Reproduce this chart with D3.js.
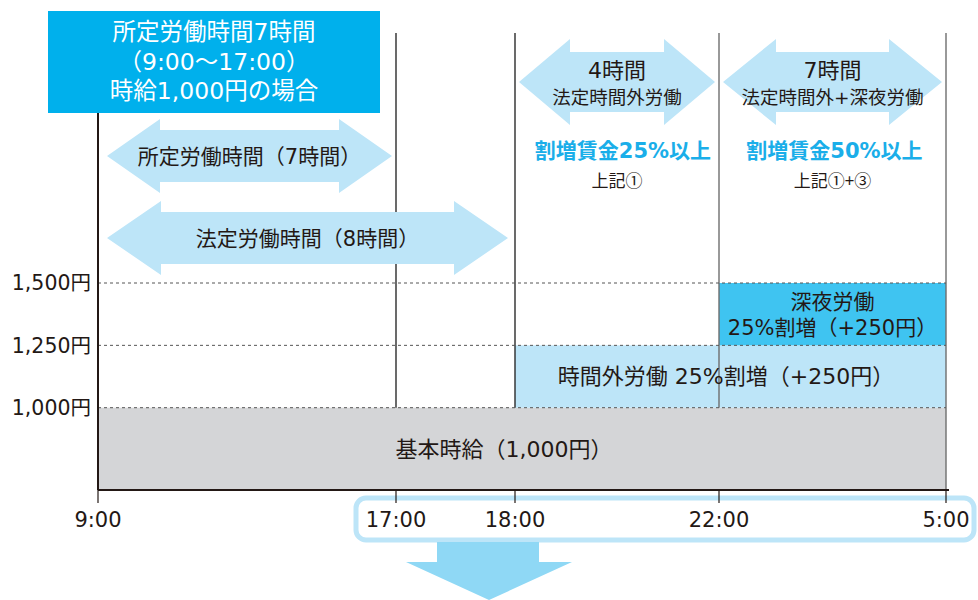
<!DOCTYPE html>
<html>
<head>
<meta charset="utf-8">
<script src="https://cdn.jsdelivr.net/npm/d3@7"></script>
<style>
  body { margin: 0; background: #fff; }
  #chart { width: 978px; height: 600px; }
  text { font-family: "DejaVu Sans", "Noto Sans CJK JP", sans-serif; fill: #231815; }
  text.cjk { font-family: "Noto Sans CJK JP", sans-serif; }
</style>
</head>
<body>
<div id="chart"></div>
<script>
// Datos
const tickHours = [9, 17, 18, 22, 29];
const tickLabels = ['9:00', '17:00', '18:00', '22:00', '5:00'];
const yTicks = [1000, 1250, 1500];
const yTickLabels = ['1,000円', '1,250円', '1,500円'];

// capas del salario (inicio, fin, importe)
const layerNames = ['base', 'overtime', 'night'];
const layerStart = [9, 18, 22];
const layerEnd = [29, 29, 29];
const layerAmount = [1000, 250, 250];
const layerLabels = [
  ['基本時給（1,000円）'],
  ['時間外労働 25%割増（+250円）'],
  ['深夜労働', '25%割増（+250円）']
];

// flechas de periodos
const spanFrom = [9, 9, 18, 22];
const spanTo = [17, 18, 22, 29];
const spanTitle = ['所定労働時間（7時間）', '法定労働時間（8時間）', '4時間', '7時間'];
const spanSub = ['', '', '法定時間外労働', '法定時間外+深夜労働'];
const spanRate = ['', '', '割増賃金25%以上', '割増賃金50%以上'];
const spanNote = ['', '', '上記①', '上記①+③'];

const COLOR_BOX = '#00b0ec',
  COLOR_LIGHT = '#bde5f8',
  COLOR_NIGHT = '#3fc4f1',
  COLOR_GREY = '#d4d5d7',
  COLOR_RATE = '#1aaee9',
  COLOR_DOWN = '#8fd8f5';

const Y_MIN = 670;

const svg = d3.select('#chart').append('svg')
  .attr('width', 978).attr('height', 600);

let x = d3.scaleLinear()
  .domain(tickHours)
  .range([98, 396, 515, 719, 946]);

let y = d3.scaleLinear()
  .domain([Y_MIN, 1500])
  .range([490, 283]);

// capas apiladas: la base arranca en el eje
let stackLow = [], stackHigh = [];
let run = 0;
layerAmount.forEach((a, i) => {
  stackLow.push(i === 0 ? Y_MIN : run);
  run += a;
  stackHigh.push(run);
});
const layerColors = [COLOR_GREY, COLOR_LIGHT, COLOR_NIGHT];

svg.append('g').selectAll('rect')
  .data(layerNames)
  .enter().append('rect')
  .attr('x', (d, i) => x(layerStart[i]))
  .attr('width', (d, i) => x(layerEnd[i]) - x(layerStart[i]))
  .attr('y', (d, i) => y(stackHigh[i]))
  .attr('height', (d, i) => y(stackLow[i]) - y(stackHigh[i]))
  .attr('fill', (d, i) => layerColors[i]);

// lineas verticales
const vStroke = ['#2b2b2b', '#2b2b2b', '#6e6e6e', '#6e6e6e'];
svg.append('g').selectAll('line')
  .data(tickHours.slice(1))
  .enter().append('line')
  .attr('x1', d => x(d)).attr('x2', d => x(d))
  .attr('y1', 33)
  .attr('y2', (d, i) => i === 3 ? y(Y_MIN) : y(1000))
  .attr('stroke', (d, i) => vStroke[i])
  .attr('stroke-width', 1.4);

// grid discontinuo
svg.append('g').selectAll('line')
  .data(yTicks)
  .enter().append('line')
  .attr('x1', x(9)).attr('x2', x(29))
  .attr('y1', d => y(d)).attr('y2', d => y(d))
  .attr('stroke', '#555')
  .attr('stroke-width', 1)
  .attr('stroke-dasharray', '3,3');

// etiquetas y
svg.append('g').selectAll('text')
  .data(yTicks)
  .enter().append('text')
  .attr('x', 91)
  .attr('y', d => y(d))
  .attr('dy', '0.36em')
  .attr('text-anchor', 'end')
  .attr('font-size', 20.5)
  .text((d, i) => yTickLabels[i]);

// texto de capas
const labelCx = [504, 726, (x(22) + x(29)) / 2];
const labelSize = [22, 22, 21];
layerNames.forEach((n, i) => {
  let cy = (y(stackLow[i]) + y(stackHigh[i])) / 2;
  let lines = layerLabels[i];
  svg.append('text')
    .attr('text-anchor', 'middle')
    .attr('font-size', labelSize[i])
    .selectAll('tspan')
    .data(lines)
    .enter().append('tspan')
    .attr('x', labelCx[i])
    .attr('y', (d, j) => cy + (j - (lines.length - 1) / 2) * 26)
    .attr('dy', '0.36em')
    .text(d => d);
});

// eje y
svg.append('line')
  .attr('x1', x(9)).attr('x2', x(9))
  .attr('y1', 113).attr('y2', y(Y_MIN))
  .attr('stroke', '#231815').attr('stroke-width', 2);

// recuadro de horas
svg.append('rect')
  .attr('x', 356).attr('y', 498)
  .attr('width', 618).attr('height', 42)
  .attr('rx', 10)
  .attr('fill', '#fff')
  .attr('stroke', COLOR_LIGHT)
  .attr('stroke-width', 5);

// eje x
svg.append('line')
  .attr('x1', x(9)).attr('x2', x(29) + 3)
  .attr('y1', y(Y_MIN)).attr('y2', y(Y_MIN))
  .attr('stroke', '#231815').attr('stroke-width', 2);

let xg = svg.append('g').selectAll('g')
  .data(tickHours)
  .enter().append('g')
  .attr('transform', d => 'translate(' + x(d) + ',' + y(Y_MIN) + ')');
xg.append('line')
  .attr('y1', 0).attr('y2', 13)
  .attr('stroke', '#231815').attr('stroke-width', 1.2);
xg.append('text')
  .attr('y', 29)
  .attr('dy', '0.36em')
  .attr('text-anchor', 'middle')
  .attr('font-size', 21)
  .text((d, i) => tickLabels[i]);

// flecha hacia abajo
const cxDown = 489;
svg.append('path')
  .attr('d', d3.line()([
    [cxDown - 52, 542], [cxDown + 50, 542], [cxDown + 50, 562], [cxDown + 83, 562],
    [cxDown, 600], [cxDown - 83, 562], [cxDown - 52, 562]
  ]))
  .attr('fill', COLOR_DOWN);

// flechas dobles
const spanCy = [156, 238, 82, 82];
const spanH = [74, 74, 86, 86];
const spanShaft = [52, 52, 60, 60];
const spanHead = [53, 54, 51, 53];
function dblArrow(x0, x1, cy, h, sh, hl) {
  return d3.line()([
    [x0, cy], [x0 + hl, cy - h / 2], [x0 + hl, cy - sh / 2], [x1 - hl, cy - sh / 2],
    [x1 - hl, cy - h / 2], [x1, cy], [x1 - hl, cy + h / 2], [x1 - hl, cy + sh / 2],
    [x0 + hl, cy + sh / 2], [x0 + hl, cy + h / 2]
  ]) + 'Z';
}
spanFrom.forEach((f, i) => {
  let x0 = x(f) + (i < 2 ? 9 : 4);
  let x1 = x(spanTo[i]) - (i === 0 ? 4 : (i === 1 ? 7 : 4));
  let cx = (x0 + x1) / 2;
  svg.append('path')
    .attr('d', dblArrow(x0, x1, spanCy[i], spanH[i], spanShaft[i], spanHead[i]))
    .attr('fill', COLOR_LIGHT);
  if (spanSub[i] === '') {
    svg.append('text')
      .attr('x', cx).attr('y', spanCy[i]).attr('dy', '0.36em')
      .attr('text-anchor', 'middle').attr('font-size', 21)
      .text(spanTitle[i]);
  } else {
    svg.append('text')
      .attr('x', cx).attr('y', spanCy[i] - 12).attr('dy', '0.36em')
      .attr('text-anchor', 'middle').attr('font-size', 22)
      .text(spanTitle[i]);
    svg.append('text')
      .attr('x', cx).attr('y', spanCy[i] + 15).attr('dy', '0.36em')
      .attr('text-anchor', 'middle').attr('font-size', 18.5)
      .text(spanSub[i]);
    svg.append('text')
      .attr('x', cx + (i === 2 ? 6 : 2)).attr('y', 150).attr('dy', '0.36em')
      .attr('text-anchor', 'middle').attr('font-size', 21).attr('font-weight', 'bold')
      .style('fill', COLOR_RATE)
      .text(spanRate[i]);
    svg.append('text')
      .attr('class', 'cjk')
      .attr('x', cx).attr('y', 181).attr('dy', '0.36em')
      .attr('text-anchor', 'middle').attr('font-size', 17)
      .text(spanNote[i]);
  }
});

// recuadro titulo
svg.append('rect')
  .attr('x', 48).attr('y', 11)
  .attr('width', 332).attr('height', 102)
  .attr('fill', COLOR_BOX);
const titleLines = ['所定労働時間7時間', '（9:00〜17:00）', '時給1,000円の場合'];
svg.append('text')
  .attr('text-anchor', 'middle')
  .attr('font-size', 23.5)
  .selectAll('tspan')
  .data(titleLines)
  .enter().append('tspan')
  .attr('x', 214)
  .attr('y', (d, i) => 32 + i * 29.5)
  .attr('dy', '0.36em')
  .style('fill', '#fff')
  .text(d => d);
</script>
</body>
</html>
